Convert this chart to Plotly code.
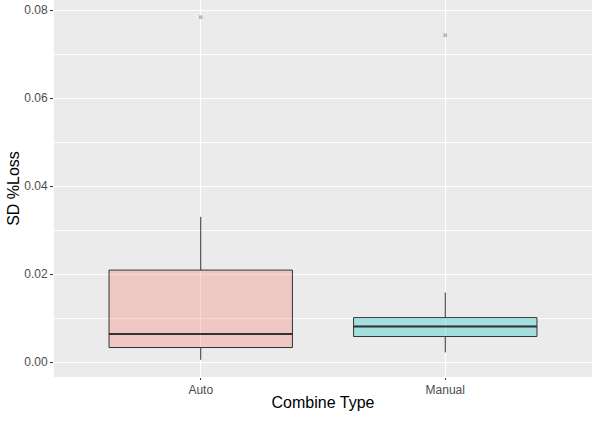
import plotly.graph_objects as go

categories = ["Auto", "Manual"]
q1 = [0.0033, 0.0058]
median = [0.0064, 0.0081]
q3 = [0.0209, 0.0101]
lower_whisker = [0.0005, 0.0022]
upper_whisker = [0.0330, 0.0158]
outliers = [[0.0784], [0.0743]]
fills = ["rgba(248,118,109,0.3)", "rgba(0,191,196,0.3)"]

BOX_W = 0.75
fig = go.Figure()
for i, cat in enumerate(categories):
    fig.add_trace(go.Box(
        x=[i], q1=[q1[i]], median=[median[i]], q3=[q3[i]],
        lowerfence=[lower_whisker[i]], upperfence=[upper_whisker[i]],
        width=BOX_W, whiskerwidth=0, fillcolor=fills[i],
        line=dict(color="#333333", width=1), boxpoints=False,
        name=cat, showlegend=False, hoverinfo="skip"))
    # thicker median line (ggplot style)
    fig.add_trace(go.Scatter(
        x=[i - BOX_W / 2, i + BOX_W / 2], y=[median[i], median[i]],
        mode="lines", line=dict(color="#333333", width=2),
        showlegend=False, hoverinfo="skip"))
    fig.add_trace(go.Scatter(
        x=[i] * len(outliers[i]), y=outliers[i], mode="markers",
        marker=dict(color="rgba(0,0,0,0.25)", size=3.5, symbol="square"),
        showlegend=False, hoverinfo="skip"))

fig.update_layout(
    width=605, height=425,
    margin=dict(l=54, r=13, t=0, b=48),
    paper_bgcolor="white", plot_bgcolor="#EBEBEB",
    font=dict(family="Liberation Sans, Arial, sans-serif"),
    xaxis=dict(
        range=[-0.6, 1.6], tickvals=[0, 1], ticktext=categories,
        showgrid=True, gridcolor="white", gridwidth=1, zeroline=False,
        ticks="outside", ticklen=2, tickcolor="#333333",
        tickfont=dict(size=12, color="#4D4D4D"),
        title=dict(text="Combine Type", font=dict(size=16, color="black"), standoff=0),
    ),
    yaxis=dict(
        range=[-0.0034, 0.0823], tickvals=[0, 0.02, 0.04, 0.06, 0.08],
        tickformat=".2f", showgrid=True, gridcolor="white", gridwidth=1,
        zeroline=False, ticks="outside", ticklen=3, tickcolor="#333333",
        tickfont=dict(size=12, color="#4D4D4D"),
        minor=dict(tickvals=[0.01, 0.03, 0.05, 0.07], showgrid=True,
                   gridcolor="white", gridwidth=0.5, ticks=""),
        title=dict(text="SD %Loss", font=dict(size=16, color="black"), standoff=0),
    ),
)
fig.write_html("out.html", config={"displayModeBar": False},
               post_script="document.body.style.margin='0';")
